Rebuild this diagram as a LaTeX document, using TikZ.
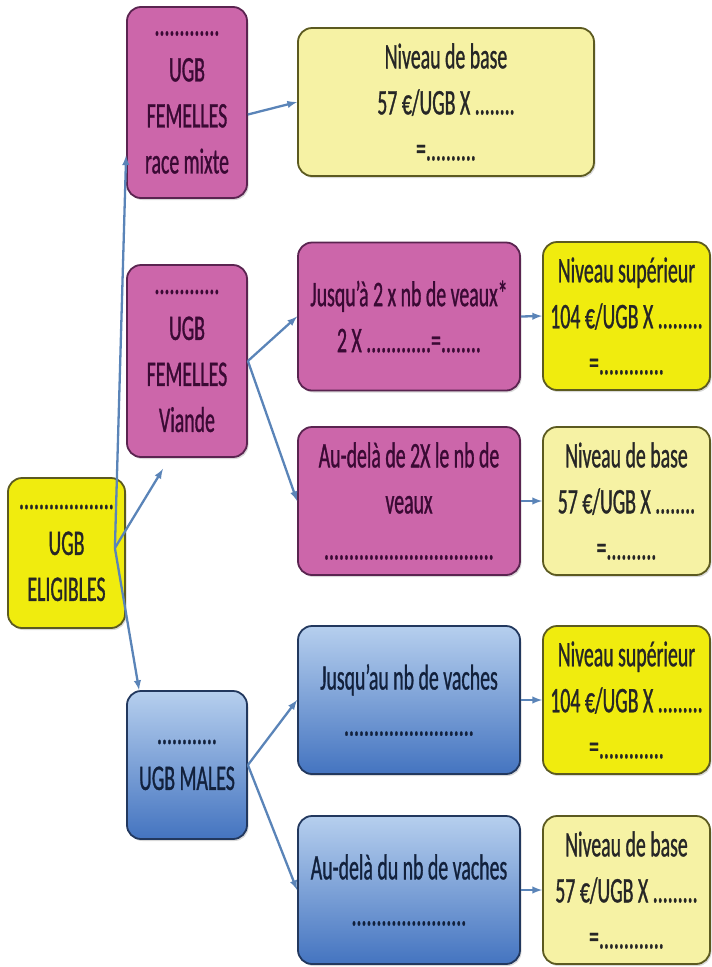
\documentclass[tikz,border=0pt]{standalone}
\usepackage{fontspec}
\setmainfont[FakeStretch=0.55, FakeBold=0.8]{Carlito}
\usepackage{tikz}
\usetikzlibrary{arrows}
\usetikzlibrary{shadows}
\definecolor{colrose}{HTML}{CC66AA}
\definecolor{bordrose}{HTML}{5A2450}
\definecolor{texterose}{HTML}{3A0A34}
\definecolor{jaunevif}{HTML}{F0EC0E}
\definecolor{jauneclair}{HTML}{F6F2A4}
\definecolor{bordjaune}{HTML}{5C5A20}
\definecolor{bleuhaut}{HTML}{B6CFEE}
\definecolor{bleubas}{HTML}{4474C0}
\definecolor{bordbleu}{HTML}{22385E}
\definecolor{textebleu}{HTML}{12213C}
\definecolor{lien}{HTML}{5A84B8}
\tikzstyle{boite}=[rectangle, rounded corners=14pt, draw, line width=1.8pt, align=center, inner sep=2pt, font=\fontsize{36}{46}\selectfont, drop shadow={opacity=0.3, shadow xshift=1.5pt, shadow yshift=-2pt}]
\tikzstyle{rose}=[boite, fill=colrose, draw=bordrose, text=texterose]
\tikzstyle{jaune}=[boite, fill=jaunevif, draw=bordjaune, text=black!85]
\tikzstyle{clair}=[boite, fill=jauneclair, draw=bordjaune, text=black!85]
\tikzstyle{bleu}=[boite, top color=bleuhaut, bottom color=bleubas, draw=bordbleu, text=textebleu]
\tikzstyle{col1}=[minimum width=120pt]
\tikzstyle{col2}=[minimum width=222pt, minimum height=148pt]
\tikzstyle{col3}=[minimum width=167pt, minimum height=148pt]
\tikzstyle{edge}=[->, line width=2.3pt, draw=lien, -latex]
\begin{document}
\begin{tikzpicture}[x=1pt, y=-1pt]
			\useasboundingbox (0,0) rectangle (712,967);
			\draw (66.5,553) node[jaune, minimum width=117pt, minimum height=150pt] (elig) {...................\\UGB\\ELIGIBLES};
			\draw (187,102.5) node[rose, col1, minimum height=191pt] (mixte) {.............\\UGB\\FEMELLES\\race mixte};
			\draw (187,361) node[rose, col1, minimum height=192pt] (viande) {.............\\UGB\\FEMELLES\\Viande};
			\draw (187,765) node[bleu, col1, minimum height=148pt] (males) {............\\UGB MALES};
			\draw (446,102) node[clair, minimum width=296pt, minimum height=148pt] (base1) {Niveau de base\\57 €/UGB X ........\\=..........};
			\draw (409,316.5) node[rose, col2] (jusqua) {Jusqu'à 2 x nb de veaux*\\2 X .............=........};
			\draw (626.5,316) node[jaune, col3] (sup1) {Niveau supérieur\\104 €/UGB X .........\\=.............};
			\draw (409,501) node[rose, col2] (audela2x) {Au-delà de 2X le nb de\\veaux\\..................................};
			\draw (626.5,501) node[clair, col3] (base2) {Niveau de base\\57 €/UGB X ........\\=..........};
			\draw (409,700) node[bleu, col2] (jusquau) {Jusqu'au nb de vaches\\..........................};
			\draw (626.5,700) node[jaune, col3] (sup2) {Niveau supérieur\\104 €/UGB X .........\\=.............};
			\draw (409,890) node[bleu, col2] (audelavaches) {Au-delà du nb de vaches\\.......................};
			\draw (626.5,890) node[clair, col3] (base3) {Niveau de base\\57 €/UGB X .........\\=.............};
			\coordinate (eligfork) at ([xshift=-11pt,yshift=5pt]elig.east);
			\draw[edge] (eligfork) -- (mixte.221);
			\draw[edge] (eligfork) -- ([xshift=-24pt,yshift=-11pt]viande.south);
			\draw[edge] (eligfork) -- ([xshift=13pt]males.north west);
			\draw[edge] ([yshift=-12pt]mixte.east) -- (base1.west);
			\draw[edge] (viande.east) -- (jusqua.west);
			\draw[edge] (viande.east) -- (audela2x.west);
			\draw[edge] (jusqua.east) -- (sup1.west);
			\draw[edge] (audela2x.east) -- (base2.west);
			\draw[edge] (males.east) -- (jusquau.west);
			\draw[edge] (males.east) -- (audelavaches.west);
			\draw[edge] (jusquau.east) -- (sup2.west);
			\draw[edge] (audelavaches.east) -- (base3.west);
		\end{tikzpicture}
\end{document}
